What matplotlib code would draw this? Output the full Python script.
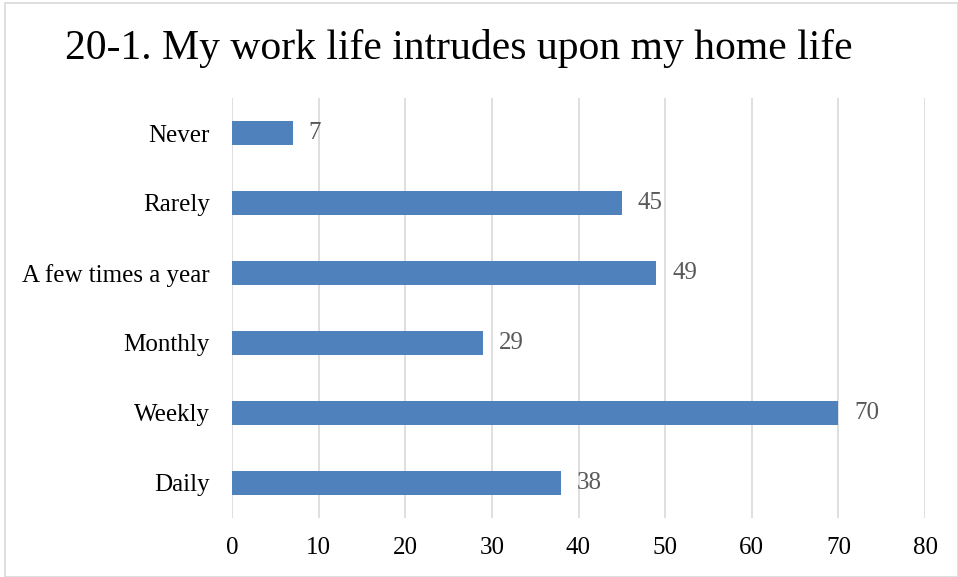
import matplotlib
matplotlib.use('Agg')
import numpy as np
from matplotlib import pyplot as plt
from matplotlib.patches import Rectangle

# data
categories = ['Never', 'Rarely', 'A few times a year', 'Monthly', 'Weekly', 'Daily']
counts = [7, 45, 49, 29, 70, 38]
x_ticks = [0, 10, 20, 30, 40, 50, 60, 70, 80]

bar_color = '#4F81BD'
grid_color = '#D9D9D9'
label_color = '#595959'

plt.rcParams['font.family'] = ['Liberation Serif', 'DejaVu Serif']

fig = plt.figure(figsize=(9.58, 5.77), dpi=100)
ax = fig.add_axes([232 / 958, 1 - 518 / 577, (925 - 232) / 958, 420 / 577])

y = np.arange(len(categories))
ax.barh(y, counts, height=0.34, color=bar_color, zorder=3)
for yi, v in zip(y, counts):
    ax.text(v + 1.8, yi, str(v), va='center', ha='left', fontsize=18, color=label_color)

ax.set_ylim(len(categories) - 0.5, -0.5)
ax.set_xlim(0, 80)
ax.set_yticks(y)
ax.set_yticklabels(categories, fontsize=18, color='black')
ax.set_xticks(x_ticks)
ax.set_xticklabels([str(t) for t in x_ticks], fontsize=18, color='black')
ax.tick_params(axis='both', length=0)
ax.tick_params(axis='y', pad=16)
ax.tick_params(axis='x', pad=14)
ax.grid(axis='x', color=grid_color, linewidth=1.2, zorder=0)
for s in ax.spines.values():
    s.set_visible(False)

fig.text(459 / 958, 1 - 49 / 577, '20-1. My work life intrudes upon my home life',
         ha='center', va='center', fontsize=30, color='black')

# outer chart border
fig.patches.append(Rectangle((5 / 958, 0.5 / 577), 1 - 5.5 / 958, 1 - 3.5 / 577,
                             transform=fig.transFigure, fill=False,
                             edgecolor='#D9D9D9', linewidth=1.2))

fig.savefig('out.png', dpi=100)
